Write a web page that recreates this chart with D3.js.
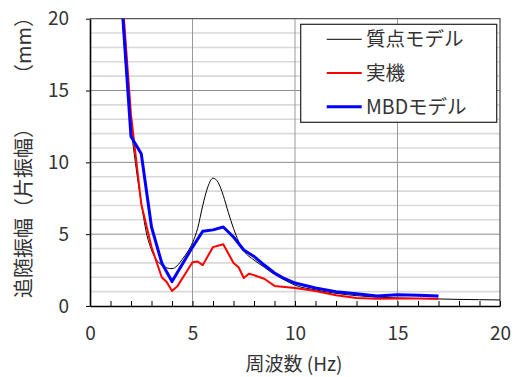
<!DOCTYPE html>
<html>
<head>
<meta charset="utf-8">
<script src="https://cdn.jsdelivr.net/npm/d3@7"></script>
<style>
body { margin: 0; background: #fff; }
text { font-family: "Noto Sans CJK JP", "Noto Sans", sans-serif; fill: #333; }
</style>
</head>
<body>
<div id="chart-container"></div>
<script>
// 質点モデル (smooth)
var massX = [1.5, 1.75, 2, 2.25, 2.5, 2.75, 3, 3.25, 3.5, 3.75, 4, 4.25, 4.5, 4.75, 5, 5.25, 5.5, 5.75, 6, 6.25, 6.5, 6.75, 7, 7.25, 7.5, 8, 8.5, 9, 9.5, 10, 11, 12, 13, 14, 15, 16, 17, 18, 19, 20];
var massY = [22, 16.5, 12.5, 9.6, 7.2, 5.1, 3.9, 3.2, 2.85, 2.65, 2.6, 2.8, 3.25, 3.75, 4.4, 5.4, 7.0, 8.3, 8.9, 8.6, 7.7, 6.5, 5.4, 4.5, 3.85, 3.2, 2.7, 2.2, 1.8, 1.45, 1.12, 0.88, 0.72, 0.62, 0.56, 0.52, 0.49, 0.46, 0.44, 0.42];

// 実機
var realX = [1.5, 2, 2.5, 3, 3.5, 3.75, 4, 4.25, 5, 5.25, 5.5, 6, 6.5, 7, 7.25, 7.5, 7.75, 8, 8.5, 9, 10, 11, 12, 13, 14, 15, 16, 17];
var realY = [23, 13.3, 7.1, 4.1, 2.0, 1.65, 1.05, 1.35, 3.05, 3.1, 2.85, 4.1, 4.3, 3.0, 2.7, 1.95, 2.25, 2.15, 1.9, 1.4, 1.25, 1.05, 0.75, 0.55, 0.5, 0.52, 0.52, 0.5];

// MBDモデル
var mbdX = [1.5, 2, 2.5, 3, 3.5, 4, 5, 5.5, 6, 6.5, 7, 7.5, 8, 8.5, 9, 9.5, 10, 11, 12, 13, 14, 15, 16, 17];
var mbdY = [22.2, 11.8, 10.6, 5.5, 3.0, 1.7, 4.1, 5.2, 5.3, 5.5, 4.8, 3.9, 3.45, 2.85, 2.3, 1.9, 1.6, 1.25, 1.0, 0.85, 0.7, 0.78, 0.75, 0.7];

var seriesNames = ["質点モデル", "実機", "MBDモデル"];
var xTicks = [0, 5, 10, 15, 20];
var yTicks = [0, 5, 10, 15, 20];

var W = 520, H = 377;
var plot = { left: 90, right: 500, top: 18.7, bottom: 306 };

var svg = d3.select("#chart-container").append("svg")
    .attr("width", W).attr("height", H);

var xScale = d3.scaleLinear().domain([0, 20]).range([plot.left, plot.right]);
var yScale = d3.scaleLinear().domain([0, 20]).range([plot.bottom, plot.top]);

// minor horizontal grid
svg.append("g").selectAll("line")
    .data(d3.range(1, 20).filter(function(d) { return d % 5 !== 0; }))
    .enter().append("line")
    .attr("x1", plot.left).attr("x2", plot.right)
    .attr("y1", function(d) { return yScale(d); })
    .attr("y2", function(d) { return yScale(d); })
    .attr("stroke", "#d9d9d9").attr("stroke-width", 1.6);

// major grid
svg.append("g").selectAll("line")
    .data([5, 10, 15])
    .enter().append("line")
    .attr("x1", plot.left).attr("x2", plot.right)
    .attr("y1", function(d) { return yScale(d); })
    .attr("y2", function(d) { return yScale(d); })
    .attr("stroke", "#8c8c8c").attr("stroke-width", 1);

svg.append("g").selectAll("line")
    .data([5, 10, 15])
    .enter().append("line")
    .attr("y1", plot.top).attr("y2", plot.bottom)
    .attr("x1", function(d) { return xScale(d); })
    .attr("x2", function(d) { return xScale(d); })
    .attr("stroke", "#9a9a9a").attr("stroke-width", 1);

// top / right frame
svg.append("path")
    .attr("d", "M" + plot.left + "," + plot.top + "H" + plot.right + "V" + plot.bottom)
    .attr("fill", "none").attr("stroke", "#595959").attr("stroke-width", 1.3);

// series
svg.append("clipPath").attr("id", "clip")
    .append("rect")
    .attr("x", plot.left).attr("y", plot.top)
    .attr("width", plot.right - plot.left).attr("height", plot.bottom - plot.top);

function toPoints(xs, ys) {
    return xs.map(function(x, i) { return [x, ys[i]]; });
}

var lineGen = d3.line()
    .x(function(d) { return xScale(d[0]); })
    .y(function(d) { return yScale(d[1]); });

var series = [
    { name: seriesNames[0], pts: toPoints(massX, massY), color: "#000", width: 1, curve: d3.curveMonotoneX },
    { name: seriesNames[1], pts: toPoints(realX, realY), color: "#ff0000", width: 2, curve: d3.curveLinear },
    { name: seriesNames[2], pts: toPoints(mbdX, mbdY), color: "#0000ff", width: 3, curve: d3.curveLinear }
];

var lines = svg.append("g").attr("clip-path", "url(#clip)");
series.forEach(function(s) {
    lines.append("path")
        .attr("d", lineGen.curve(s.curve)(s.pts))
        .attr("fill", "none")
        .attr("stroke", s.color)
        .attr("stroke-width", s.width)
        .attr("stroke-linejoin", "round");
});

// axes
var xAxis = d3.axisBottom(xScale)
    .tickValues(d3.range(0, 21))
    .tickSize(-5)
    .tickSizeOuter(0)
    .tickPadding(21)
    .tickFormat(function(d) { return xTicks.indexOf(d) >= 0 ? d : ""; });

var gx = svg.append("g")
    .attr("transform", "translate(0," + plot.bottom + ")")
    .call(xAxis);
gx.select(".domain").attr("stroke", "#000").attr("stroke-width", 1.6);
gx.selectAll(".tick line").attr("stroke", "#000").attr("stroke-width", 1);
gx.selectAll("text").attr("font-size", 19).attr("fill", "#333")
    .attr("font-family", "'Noto Sans CJK JP', sans-serif");

var yAxis = d3.axisLeft(yScale)
    .tickValues(yTicks)
    .tickSize(4)
    .tickSizeOuter(0)
    .tickPadding(17);

var gy = svg.append("g")
    .attr("transform", "translate(" + plot.left + ",0)")
    .call(yAxis);
gy.select(".domain").attr("stroke", "#000").attr("stroke-width", 1.6);
gy.selectAll(".tick line").attr("stroke", "#000").attr("stroke-width", 1);
gy.selectAll("text").attr("font-size", 19).attr("fill", "#333")
    .attr("font-family", "'Noto Sans CJK JP', sans-serif");

// axis titles
svg.append("text")
    .attr("x", 294).attr("y", 371)
    .attr("text-anchor", "middle")
    .attr("font-size", 19)
    .text("周波数 (Hz)");

var yt = svg.append("text")
    .attr("transform", "translate(31,298) rotate(-90)")
    .attr("font-size", 20);
yt.append("tspan").text("追随振幅（片振幅）");
yt.append("tspan").attr("dx", 44).text("（mm）");

// legend
var leg = svg.append("g");
leg.append("rect")
    .attr("x", 300.7).attr("y", 24.3)
    .attr("width", 196).attr("height", 98)
    .attr("fill", "#fff").attr("stroke", "#222").attr("stroke-width", 1.2);

var legRows = leg.selectAll("g.row")
    .data(series)
    .enter().append("g")
    .attr("class", "row")
    .attr("transform", function(d, i) { return "translate(0," + (39.3 + i * 33.7) + ")"; });

legRows.append("line")
    .attr("x1", 326.7).attr("x2", 361.7)
    .attr("stroke", function(d) { return d.color; })
    .attr("stroke-width", function(d) { return d.width; });

legRows.append("text")
    .attr("x", 366).attr("dy", "0.36em")
    .attr("font-size", 19.5)
    .text(function(d) { return d.name; });
</script>
</body>
</html>
